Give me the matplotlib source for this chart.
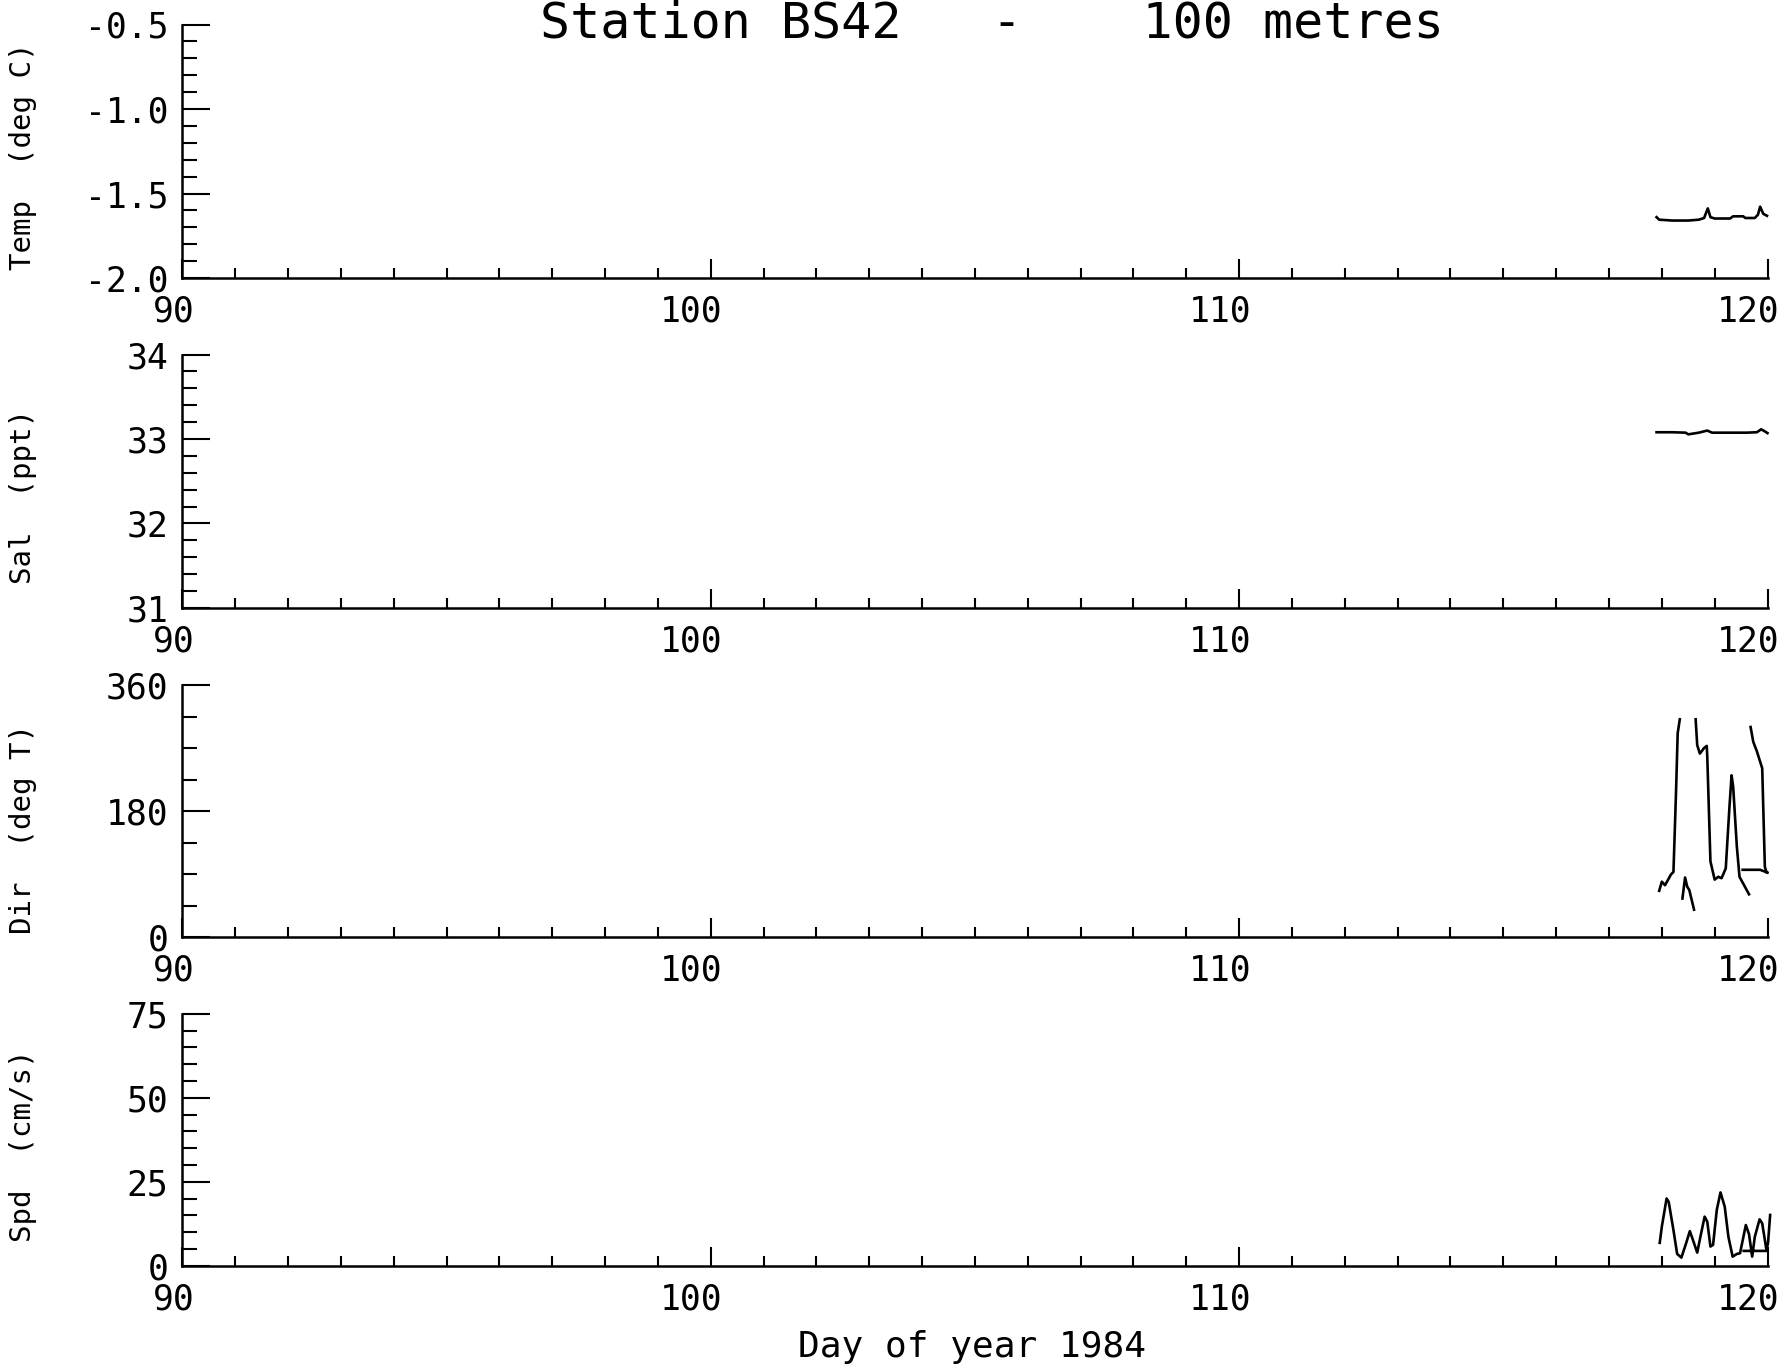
import numpy as np
import matplotlib
matplotlib.use("Agg")
import matplotlib.pyplot as plt
from matplotlib.ticker import MultipleLocator, FixedLocator
import matplotlib.transforms as mtrans

nan = np.nan

# temperature (deg C)
temp_day = [117.90, 117.95, 118.2, 118.5, 118.70, 118.80, 118.87, 118.92, 119.0,
            119.29, 119.35, 119.54, 119.58, 119.76, 119.82, 119.86, 119.92, 119.99]
temp_val = [-1.640, -1.655, -1.660, -1.660, -1.655, -1.645, -1.588, -1.640, -1.648,
            -1.648, -1.635, -1.635, -1.645, -1.645, -1.625, -1.578, -1.620, -1.632]

# salinity (ppt)
sal_day = [117.90, 118.2, 118.45, 118.50, 118.70, 118.86, 118.95, 119.3, 119.6,
           119.80, 119.88, 119.95, 120.0]
sal_val = [33.08, 33.08, 33.075, 33.055, 33.075, 33.10, 33.075, 33.075, 33.075,
           33.08, 33.115, 33.09, 33.07]

# direction (deg T), nan = pen lift
dir_day = [117.95, 118.00, 118.06, 118.12, 118.17, 118.22, 118.27, 118.30, 118.34, nan,
           118.39, 118.44, 118.48, 118.52, 118.61, nan,
           118.64, 118.67, 118.72, 118.80, 118.85, 118.86, 118.92, 119.00, 119.07,
           119.13, 119.21, 119.28, 119.32, 119.35, 119.42, 119.47, 119.65, nan,
           119.53, 119.86, 120.0, nan,
           119.68, 119.73, 119.80, 119.85, 119.90, 119.95, 119.98]
dir_val = [66, 79, 74, 82, 89, 93, 210, 291, 311, nan,
           55, 85, 72, 67, 39, nan,
           311, 274, 262, 270, 273, 258, 108, 82, 86,
           84, 98, 186, 231, 215, 129, 86, 61, nan,
           96, 96, 92, nan,
           300, 279, 265, 253, 241, 100, 93]

# speed (cm/s)
spd_day = [117.96, 118.00, 118.09, 118.13, 118.22, 118.29, 118.37, 118.46, 118.53,
           118.59, 118.67, 118.73, 118.81, 118.86, 118.92, 118.97, 119.04, 119.11,
           119.19, 119.26, 119.34, 119.42, 119.48, 119.59, 119.65, 119.71, 119.76,
           119.85, 119.90, 119.98, 120.01, 120.05, nan, 119.55, 120.0]
spd_val = [6.8, 11.6, 20.0, 19.0, 10.6, 3.5, 2.4, 6.7, 10.3,
           7.6, 3.9, 8.6, 14.6, 13.1, 5.7, 6.2, 16.6, 21.8,
           17.6, 8.6, 2.7, 3.5, 3.7, 12.1, 9.4, 2.7, 8.6,
           13.8, 12.6, 4.7, 6.7, 15.1, nan, 4.4, 4.4]

x_ticks = [90, 100, 110, 120]
x_labels = ["90", "100", "110", "120"]

panels = [
    dict(day=temp_day, val=temp_val, label="Temp  (deg C)", lim=(-2.0, -0.5),
         ticks=[-2.0, -1.5, -1.0, -0.5], tlabels=["-2.0", "-1.5", "-1.0", "-0.5"],
         minor=0.1, lab_y=0.48),
    dict(day=sal_day, val=sal_val, label="Sal  (ppt)", lim=(31, 34),
         ticks=[31, 32, 33, 34], tlabels=["31", "32", "33", "34"], minor=0.2, lab_y=0.44),
    dict(day=dir_day, val=dir_val, label="Dir  (deg T)", lim=(0, 360),
         ticks=[0, 180, 360], tlabels=["0", "180", "360"], minor=45, lab_y=0.43),
    dict(day=spd_day, val=spd_val, label="Spd  (cm/s)", lim=(0, 75),
         ticks=[0, 25, 50, 75], tlabels=["0", "25", "50", "75"], minor=5, lab_y=0.475),
]

plt.rcParams["font.family"] = ["DejaVu Sans Mono", "DejaVu Sans"]

W, H = 1788, 1369
fig = plt.figure(figsize=(W / 100, H / 100), dpi=100)

left_px, right_px = 182.4, 1767.5
tops = [24.5, 354.6, 685.0, 1013.7]
bots = [278.0, 607.8, 937.0, 1265.7]

shift = mtrans.ScaledTranslation(12 / 100, 0, fig.dpi_scale_trans)

for p, top, bot in zip(panels, tops, bots):
    ax = fig.add_axes([left_px / W, 1 - bot / H, (right_px - left_px) / W, (bot - top) / H])
    ax.plot(p["day"], p["val"], color="black", lw=1.9, clip_on=False)
    ax.set_xlim(90, 120)
    ax.set_ylim(*p["lim"])
    for s in ["top", "right"]:
        ax.spines[s].set_visible(False)
    for s in ["left", "bottom"]:
        ax.spines[s].set_linewidth(1.8)
    ax.xaxis.set_major_locator(FixedLocator(x_ticks))
    ax.set_xticklabels(x_labels)
    ax.xaxis.set_minor_locator(MultipleLocator(1))
    ax.yaxis.set_major_locator(FixedLocator(p["ticks"]))
    ax.set_yticklabels(p["tlabels"])
    ax.yaxis.set_minor_locator(MultipleLocator(p["minor"]))
    ax.tick_params(axis="x", which="major", direction="in", length=14, width=1.5,
                   labelsize=25, pad=12)
    ax.tick_params(axis="x", which="minor", direction="in", length=7, width=1.5)
    ax.tick_params(axis="y", which="major", direction="in", length=20, width=1.5,
                   labelsize=25, pad=10)
    ax.tick_params(axis="y", which="minor", direction="in", length=11, width=1.5)
    for lab in ax.get_xticklabels():
        lab.set_horizontalalignment("right")
        lab.set_transform(lab.get_transform() + shift)
    ax.set_ylabel(p["label"], fontsize=21, va="center")
    ax.yaxis.set_label_coords((23 - left_px) / (right_px - left_px), p["lab_y"])

fig.text(992 / W, 1 - 23 / H, "Station BS42   -    100 metres", fontsize=36,
         ha="center", va="center", fontweight="light")
fig.text(972 / W, 1 - 1347 / H, "Day of year 1984", fontsize=26,
         ha="center", va="center")

fig.savefig("out.png", dpi=100)
